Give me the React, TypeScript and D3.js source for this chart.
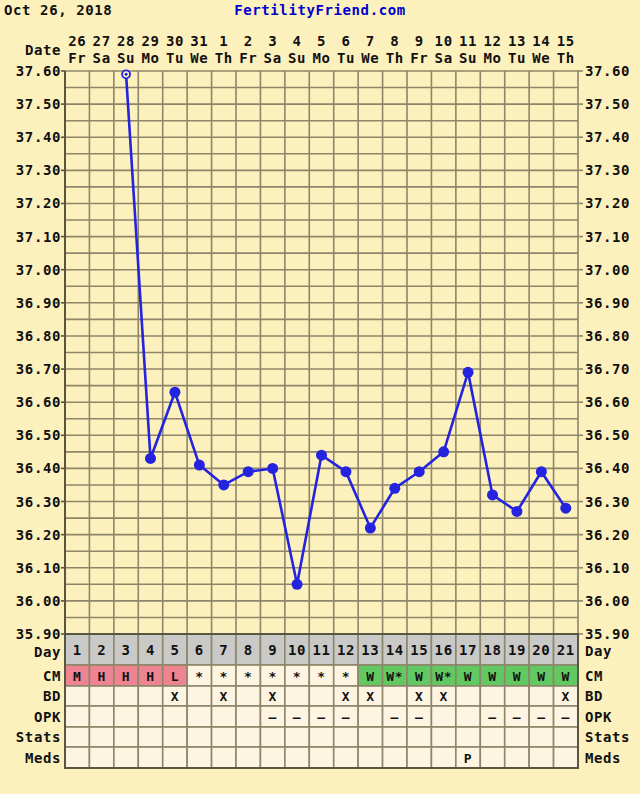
import React from "react";
import * as d3 from "d3";

const cycleDays = d3.range(1, 22);
const dates = ["26","27","28","29","30","31","1","2","3","4","5","6","7","8","9","10","11","12","13","14","15"];
const weekdays = ["Fr","Sa","Su","Mo","Tu","We","Th","Fr","Sa","Su","Mo","Tu","We","Th","Fr","Sa","Su","Mo","Tu","We","Th"];
// temperatures per cycle day (null = no reading)
const temps: (number | null)[] = [null, null, 37.59, 36.43, 36.63, 36.41, 36.35, 36.39, 36.40, 36.05, 36.44, 36.39, 36.22, 36.34, 36.39, 36.45, 36.69, 36.32, 36.27, 36.39, 36.28];
const discarded = [3];
const yTicks = d3.range(0, 18).map((i) => +(35.9 + i * 0.1).toFixed(2));
const cm = ["M","H","H","H","L","*","*","*","*","*","*","*","W","W*","W","W*","W","W","W","W","W"];
const cmType = ["m","m","m","m","m","d","d","d","d","d","d","d","w","w","w","w","w","w","w","w","w"];
const bd = [5, 7, 9, 12, 13, 15, 16, 21];
const opk = [9, 10, 11, 12, 14, 15, 18, 19, 20, 21];
const meds: Record<number, string> = { 17: "P" };
const rowLabels = ["Day", "CM", "BD", "OPK", "Stats", "Meds"];

const W = 640, H = 794;
const L = 65, R = 578, T = 71, B = 634;
const rowEdges = [634, 665, 686, 706, 727, 747, 768];
const BG = "#FCF0BD";
const GRID = "#8E866A";
const FONT = "'DejaVu Sans Mono', monospace";
const BLUE = "#2323E0";

export default function App() {
  const x = d3.scaleBand<number>().domain(cycleDays).range([L, R]);
  const y = d3.scaleLinear().domain([35.9, 37.6]).range([B, T]);
  const cx = (d: number) => (x(d) as number) + x.bandwidth() / 2;
  const pts = cycleDays
    .map((d, i) => ({ d, t: temps[i] }))
    .filter((p) => p.t !== null) as { d: number; t: number }[];
  const line = d3.line<{ d: number; t: number }>().x((p) => cx(p.d)).y((p) => y(p.t));
  const halfLines = d3.range(0, 35).map((i) => 35.9 + i * 0.05);
  const txt = { fontFamily: FONT, fontWeight: 700, fontSize: 14, letterSpacing: 0.6 } as const;

  const cellFill = (row: number, i: number) => {
    if (row === 0) return "#C9C9C7";
    if (row === 1) {
      if (cmType[i] === "m") return "#EE8391";
      if (cmType[i] === "w") return "#62C962";
    }
    return "#FDF5E2";
  };
  const cellText = (row: number, d: number, i: number) => {
    if (row === 0) return String(d);
    if (row === 1) return cm[i];
    if (row === 2) return bd.includes(d) ? "X" : "";
    if (row === 3) return opk.includes(d) ? "–" : "";
    if (row === 5) return meds[d] || "";
    return "";
  };

  return (
    <svg width={W} height={H} style={{ position: "absolute", left: 0, top: 0, background: BG }}>
      <rect x={0} y={0} width={W} height={H} fill={BG} />
      <text x={4} y={15} {...txt} fill="#111">Oct 26, 2018</text>
      <text x={320} y={15} {...txt} fill="#0000CC" textAnchor="middle">FertilityFriend.com</text>

      <text x={61} y={55} {...txt} fill="#111" textAnchor="end">Date</text>
      {cycleDays.map((d, i) => (
        <g key={"h" + d}>
          <text x={cx(d)} y={46} {...txt} fill="#111" textAnchor="middle">{dates[i]}</text>
          <text x={cx(d)} y={63} {...txt} fill="#111" textAnchor="middle">{weekdays[i]}</text>
        </g>
      ))}

      {/* plot grid */}
      {halfLines.map((v, i) => (
        <line key={"hl" + i} x1={L} x2={R} y1={y(v)} y2={y(v)} stroke={GRID} strokeWidth={1.6} />
      ))}
      {cycleDays.map((d) => (
        <line key={"vl" + d} x1={x(d) as number} x2={x(d) as number} y1={T} y2={B} stroke={GRID} strokeWidth={1.6} />
      ))}
      <line x1={R} x2={R} y1={T} y2={rowEdges[6]} stroke={GRID} strokeWidth={1.6} />
      <line x1={L} x2={L} y1={T} y2={rowEdges[6]} stroke="#5A5540" strokeWidth={2} />
      {yTicks.map((v) => (
        <g key={"t" + v}>
          <line x1={L - 4} x2={L} y1={y(v)} y2={y(v)} stroke="#5A5540" strokeWidth={1.6} />
          <line x1={R} x2={R + 5} y1={y(v)} y2={y(v)} stroke={GRID} strokeWidth={1.6} />
          <text x={61} y={y(v) + 5} {...txt} fill="#111" textAnchor="end">{v.toFixed(2)}</text>
          <text x={585} y={y(v) + 5} {...txt} fill="#111">{v.toFixed(2)}</text>
        </g>
      ))}

      {/* table */}
      {rowLabels.map((lab, r) => {
        const y0 = rowEdges[r], y1 = rowEdges[r + 1];
        const mid = (y0 + y1) / 2 + 5;
        return (
          <g key={"row" + r}>
            {cycleDays.map((d, i) => (
              <g key={"c" + r + "-" + d}>
                <rect x={x(d) as number} y={y0} width={x.bandwidth()} height={y1 - y0} fill={cellFill(r, i)} stroke={GRID} strokeWidth={1.6} />
                <text x={cx(d)} y={mid} {...txt} fill="#111" textAnchor="middle" fontSize={r === 0 ? 14 : 13}>
                  {cellText(r, d, i)}
                </text>
              </g>
            ))}
            <text x={61} y={r === 0 ? 657 : mid} {...txt} fill="#111" textAnchor="end">{lab}</text>
            <text x={585} y={r === 0 ? 656 : mid} {...txt} fill="#111">{lab}</text>
          </g>
        );
      })}
      <rect x={L} y={rowEdges[0]} width={R - L} height={rowEdges[6] - rowEdges[0]} fill="none" stroke="#5A5540" strokeWidth={2} />

      {/* temperature line */}
      <path d={line(pts) || ""} fill="none" stroke={BLUE} strokeWidth={2.6} />
      {pts.map((p) =>
        discarded.includes(p.d) ? (
          <circle key={"p" + p.d} cx={cx(p.d)} cy={y(p.t)} r={4} fill={BG} stroke={BLUE} strokeWidth={1.8} />
        ) : (
          <circle key={"p" + p.d} cx={cx(p.d)} cy={y(p.t)} r={5.5} fill={BLUE} />
        )
      )}
      {pts.filter((p) => discarded.includes(p.d)).map((p) => (
        <circle key={"dd" + p.d} cx={cx(p.d)} cy={y(p.t)} r={1.5} fill={BLUE} />
      ))}
    </svg>
  );
}
